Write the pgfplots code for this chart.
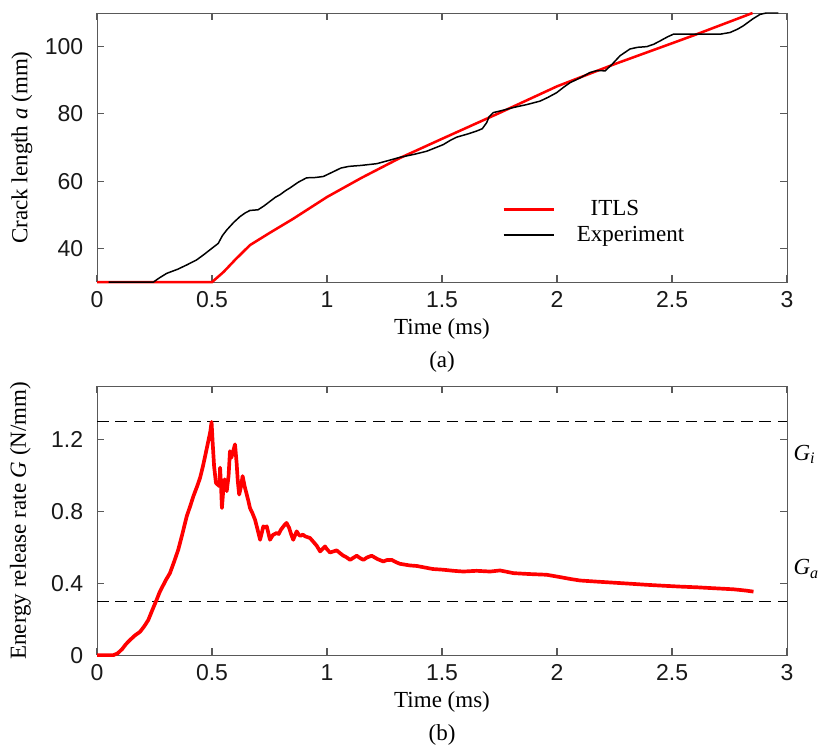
\documentclass[border=0pt]{standalone}
\usepackage{fontspec}
\setmainfont{Liberation Serif}
\newfontfamily\ticksf{Liberation Sans}
\usepackage{pgfplots}
\pgfplotsset{compat=1.18}

\begin{document}
\begin{tikzpicture}
\useasboundingbox (0,0) rectangle (356.5pt,325.7pt);
\pgfplotsset{
  myaxis/.style={
    scale only axis, width=300pt, height=117pt,
    xmin=0, xmax=3, xtick={0,0.5,1,1.5,2,2.5,3},
    axis line style={black!65}, every tick/.style={black!65, line width=0.5pt},
    tick label style={font=\ticksf, black!90},
    /pgf/number format/assume math mode=true,
    major tick length=3pt,
    yticklabel style={xshift=-2.5pt},
    xticklabel style={yshift=-0.5pt},
    every axis x label/.style={at={(axis description cs:0.5,0)}, anchor=center, yshift=-20.5pt},
    clip=false,
  }
}
% ---------------- (a) ----------------
\begin{axis}[myaxis, at={(42.18pt,203.05pt)}, anchor=south west,
  ymin=30, ymax=110, ytick={40,60,80,100},
  xlabel={Time (ms)},
  ylabel={Crack length \textit{a} (mm)},
  every axis y label/.style={at={(axis description cs:-0.109,0.5)}, rotate=90, anchor=center},
  legend style={draw=none, fill=none, at={(axis cs:1.73,57.2)}, anchor=north west, font=\normalsize, row sep=-1pt},
  legend cell align=left,
  legend image code/.code={\draw[#1] (0cm,0cm) -- (0.77cm,0cm);},
]
\addplot[red, line width=1.1pt] coordinates {
(0,30) (0.5,30) (0.55,33) (0.6,36.6) (0.665,41) (0.75,44.6) (0.85,48.7) (1.0,55.3)
(1.15,61) (1.317,66.9) (1.5,72.6) (1.75,80.3) (2.0,88.2) (2.25,94.8) (2.5,101)
(2.6,103.5) (2.85,110)
};
\addlegendentry{\hspace{13.4pt}ITLS}
\addplot[black, line width=0.65pt] coordinates {
(0.05,30) (0.245,30) (0.27,31.2) (0.303,32.6) (0.35,33.8) (0.39,35.1) (0.433,36.6)
(0.465,38.2) (0.491,39.6) (0.527,41.5) (0.545,43.8) (0.564,45.5) (0.595,47.8)
(0.622,49.5) (0.645,50.6) (0.665,51.3) (0.70,51.5) (0.725,52.6) (0.752,54)
(0.775,55.2) (0.796,56) (0.82,57.2) (0.839,58) (0.875,59.7) (0.911,61)
(0.95,61.1) (0.984,61.4) (1.03,62.9) (1.06,63.9) (1.095,64.4) (1.15,64.7)
(1.216,65.2) (1.27,66.2) (1.317,67.1) (1.38,68.0) (1.433,68.9) (1.47,69.9)
(1.506,70.9) (1.535,72.1) (1.564,73.1) (1.61,74.0) (1.65,74.9) (1.675,75.6)
(1.694,77.4) (1.705,79.2) (1.723,80.4) (1.76,81.0) (1.81,81.9) (1.87,82.8)
(1.926,83.8) (1.96,84.9) (1.998,86.3) (2.03,88.0) (2.057,89.3) (2.10,90.7)
(2.143,92.3) (2.175,92.9) (2.209,92.8) (2.24,94.8) (2.274,97.3) (2.317,99.3)
(2.35,99.8) (2.39,100) (2.42,100.7) (2.448,101.7) (2.48,102.9) (2.506,103.7)
(2.6,103.7) (2.709,103.7) (2.752,104.2) (2.785,105.2) (2.81,106.2) (2.85,108.2)
(2.883,109.6) (2.91,110) (2.962,110)
};
\addlegendentry{\hspace{7.4pt}Experiment}
\node[font=\normalsize] at (axis description cs:0.5,0) [yshift=-34.8pt] {(a)};
\end{axis}
% ---------------- (b) ----------------
\begin{axis}[myaxis, at={(42.18pt,40.87pt)}, anchor=south west,
  ymin=0, ymax=1.5, ytick={0,0.4,0.8,1.2},
  xlabel={Time (ms)},
  ylabel={Energy release rate \textit{G} (N/mm)},
  every axis y label/.style={at={(axis description cs:-0.111,0.5)}, rotate=90, anchor=center},
]
\addplot[black, line width=0.5pt, dash pattern=on 5pt off 3pt] coordinates {(0,1.3) (3,1.3)};
\addplot[black, line width=0.5pt, dash pattern=on 5pt off 3pt] coordinates {(0,0.3) (3,0.3)};
\addplot[red, line width=1.6pt, line join=round] coordinates {
(0,0) (0.071,0) (0.09,0.01) (0.11,0.035) (0.125,0.06) (0.143,0.084) (0.165,0.11)
(0.187,0.13) (0.205,0.16) (0.223,0.196) (0.24,0.25) (0.259,0.308) (0.272,0.35) (0.281,0.373)
(0.30,0.42) (0.317,0.457) (0.335,0.52) (0.353,0.587) (0.37,0.67) (0.39,0.774)
(0.405,0.83) (0.419,0.886) (0.435,0.94) (0.448,0.988) (0.46,1.05) (0.47,1.109)
(0.487,1.212) (0.493,1.25) (0.498,1.30) (0.503,1.18) (0.509,1.053) (0.517,0.96)
(0.525,0.95) (0.532,0.942) (0.535,1.045) (0.539,0.95) (0.543,0.82) (0.549,0.92)
(0.555,0.98) (0.564,0.914) (0.572,1.0) (0.578,1.137) (0.584,1.10) (0.59,1.128)
(0.6,1.175) (0.607,1.07) (0.612,0.97) (0.618,0.895) (0.626,0.94) (0.633,0.998)
(0.642,0.94) (0.651,0.895) (0.658,0.86) (0.665,0.82) (0.676,0.79) (0.687,0.755) (0.70,0.69)
(0.709,0.643) (0.716,0.68) (0.723,0.718) (0.73,0.71) (0.738,0.718) (0.745,0.68) (0.752,0.643)
(0.765,0.67) (0.781,0.681) (0.79,0.675) (0.80,0.70) (0.815,0.725) (0.824,0.737) (0.835,0.71)
(0.845,0.67) (0.853,0.643) (0.868,0.69) (0.878,0.67) (0.885,0.665) (0.895,0.672) (0.905,0.662) (0.926,0.653)
(0.945,0.625) (0.955,0.61) (0.97,0.578) (0.991,0.606) (1.0,0.59) (1.013,0.572) (1.042,0.584) (1.055,0.57) (1.07,0.555)
(1.085,0.545) (1.1,0.531) (1.129,0.554) (1.145,0.54) (1.158,0.531) (1.175,0.545) (1.194,0.554) (1.22,0.535) (1.245,0.522)
(1.26,0.53) (1.281,0.531) (1.3,0.518) (1.317,0.509) (1.36,0.50) (1.39,0.497) (1.419,0.49) (1.46,0.48) (1.506,0.476)
(1.55,0.47) (1.593,0.466) (1.65,0.47) (1.709,0.466) (1.752,0.472) (1.78,0.465) (1.81,0.457)
(1.88,0.452) (1.955,0.448) (2.013,0.435) (2.06,0.424) (2.1,0.416) (2.17,0.41) (2.245,0.404)
(2.32,0.398) (2.39,0.392) (2.46,0.387) (2.535,0.382) (2.61,0.378) (2.68,0.373)
(2.767,0.367) (2.82,0.36) (2.854,0.354)
};
\node[anchor=west, inner sep=0pt, font=\normalsize] at (axis cs:3,1.12) [xshift=2.6pt] {\textit{G}\textsubscript{\textit{i}}};
\node[anchor=west, inner sep=0pt, font=\normalsize] at (axis cs:3,0.48) [xshift=2.6pt] {\textit{G}\textsubscript{\textit{a}}};
\node[font=\normalsize] at (axis description cs:0.5,0) [yshift=-34.8pt] {(b)};
\end{axis}
\end{tikzpicture}
\end{document}
